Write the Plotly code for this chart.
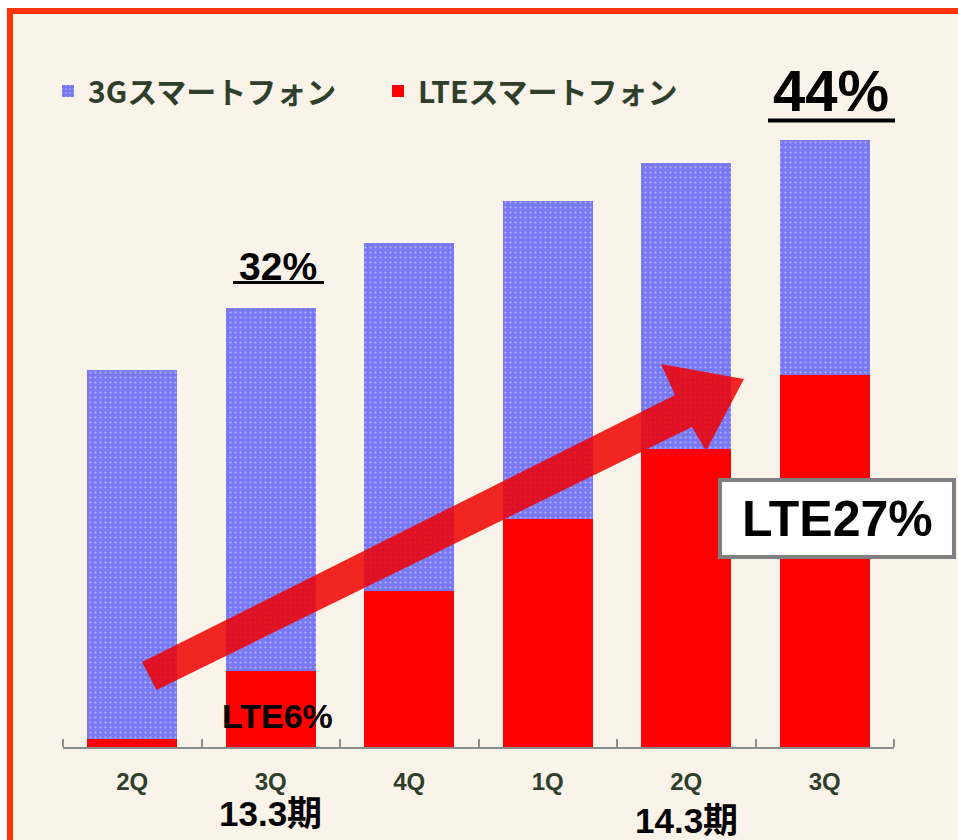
import plotly.graph_objects as go

# ---- data (share of subscribers, %) ----
quarters = ["2Q", "3Q", "4Q", "1Q", "2Q", "3Q"]
periods = ["13.3期", "14.3期"]
period_index = [1, 4]
lte_smartphone = [0.6, 5.5, 11.3, 16.5, 21.6, 27.0]
smartphone_3g = [26.7, 26.3, 25.2, 23.1, 20.7, 17.0]
series_names = ["3Gスマートフォン", "LTEスマートフォン"]
total_labels = ["32%", "44%"]
lte_labels = ["LTE6%", "LTE27%"]

# ---- geometry ----
W, H = 958, 840
ML, MR, MT, MB = 63, 64, 100, 93
PW, PH = W - ML - MR, H - MT - MB
Y_MAX = PH / 13.795


def xp(px):
    return (px - ML) / PW


def yp(py):
    return (H - MB - py) / PH


x_pos = list(range(len(quarters)))
INK = "#2E3F2B"
LATIN = "Liberation Sans, Arial, Noto Sans CJK JP"
CJK = "Noto Sans CJK JP, Noto Sans CJK SC"

fig = go.Figure()
fig.add_trace(go.Bar(
    x=x_pos, y=lte_smartphone, name=series_names[1], width=0.65,
    marker=dict(color="#FF0000", line=dict(width=0)), legend="legend2",
))
fig.add_trace(go.Bar(
    x=x_pos, y=smartphone_3g, name=series_names[0], width=0.65,
    marker=dict(color="#7878F5", line=dict(width=0),
                pattern=dict(shape=".", fillmode="overlay", fgcolor="#DCDCFF",
                             fgopacity=0.6, size=5, solidity=0.15)),
    legend="legend",
))

shapes = []
# frame
shapes.append(dict(type="rect", xref="paper", yref="paper",
                   x0=xp(10), y0=yp(11), x1=xp(1010), y1=yp(900),
                   line=dict(color="#FF3300", width=6), fillcolor="#FAF3E9",
                   layer="below"))
# arrow
pts = [(142, 662), (675, 395), (661, 364), (744, 379), (706, 451), (692, 427), (156.5, 690)]
path = "M " + " L ".join(f"{xp(a):.5f},{yp(b):.5f}" for a, b in pts) + " Z"
shapes.append(dict(type="path", xref="paper", yref="paper", path=path,
                   fillcolor="#F00000", opacity=0.85, line=dict(width=0), layer="above"))
# underlines
shapes.append(dict(type="line", xref="paper", yref="paper",
                   x0=xp(233), x1=xp(324), y0=yp(282.5), y1=yp(282.5),
                   line=dict(color="black", width=3)))
shapes.append(dict(type="line", xref="paper", yref="paper",
                   x0=xp(768), x1=xp(895), y0=yp(120.5), y1=yp(120.5),
                   line=dict(color="black", width=4)))
# LTE27% box
shapes.append(dict(type="rect", xref="paper", yref="paper",
                   x0=xp(720), x1=xp(954), y0=yp(480), y1=yp(557),
                   line=dict(color="#808080", width=4), fillcolor="white", layer="above"))

annotations = []
for name, idx, ypx in zip(periods, period_index, [813, 820]):
    annotations.append(dict(text=name, x=idx, xref="x", y=yp(ypx), yref="paper",
                            showarrow=False, xanchor="center", yanchor="middle",
                            font=dict(family=LATIN, size=35, color="black", weight="bold")))
annotations.append(dict(text=total_labels[0], x=xp(278), y=yp(266), xref="paper", yref="paper",
                        showarrow=False, xanchor="center", yanchor="middle",
                        font=dict(family=LATIN, size=39, color="black", weight="bold")))
annotations.append(dict(text=total_labels[1], x=xp(831), y=yp(91), xref="paper", yref="paper",
                        showarrow=False, xanchor="center", yanchor="middle",
                        font=dict(family=LATIN, size=58, color="black", weight="bold")))
annotations.append(dict(text=lte_labels[0], x=xp(277), y=yp(716), xref="paper", yref="paper",
                        showarrow=False, xanchor="center", yanchor="middle",
                        font=dict(family=LATIN, size=34, color="black", weight="bold")))
annotations.append(dict(text=lte_labels[1], x=xp(837), y=yp(519), xref="paper", yref="paper",
                        showarrow=False, xanchor="center", yanchor="middle",
                        font=dict(family=LATIN, size=50, color="black", weight="bold")))

legend_font = dict(family=CJK, size=30, color=INK, weight="bold")
fig.update_layout(
    width=W, height=H,
    margin=dict(l=ML, r=MR, t=MT, b=MB),
    paper_bgcolor="white", plot_bgcolor="rgba(0,0,0,0)",
    barmode="stack", bargap=0.35,
    showlegend=True,
    legend=dict(x=xp(48), y=yp(91), xanchor="left", yanchor="middle",
                orientation="h", font=legend_font, bgcolor="rgba(0,0,0,0)"),
    legend2=dict(x=xp(378), y=yp(91), xanchor="left", yanchor="middle",
                 orientation="h", font=legend_font, bgcolor="rgba(0,0,0,0)"),
    xaxis=dict(range=[-0.5, 5.5], tickmode="array", tickvals=x_pos, ticktext=quarters,
               ticks="", showgrid=False, zeroline=False,
               showline=True, linecolor="#8C8C8C", linewidth=2,
               tickfont=dict(family=LATIN, size=24, color=INK, weight="bold"),
               ticklabelstandoff=12,
               minor=dict(tickmode="array", tickvals=[i - 0.5 for i in range(len(quarters) + 1)],
                          ticks="inside", ticklen=8, tickwidth=2, tickcolor="#8C8C8C",
                          showgrid=False)),
    yaxis=dict(range=[0, Y_MAX], visible=False),
    shapes=shapes, annotations=annotations,
)

fig.write_html("out.html", config={"displayModeBar": False},
               post_script="document.body.style.margin='0px';document.body.style.overflow='hidden';")
